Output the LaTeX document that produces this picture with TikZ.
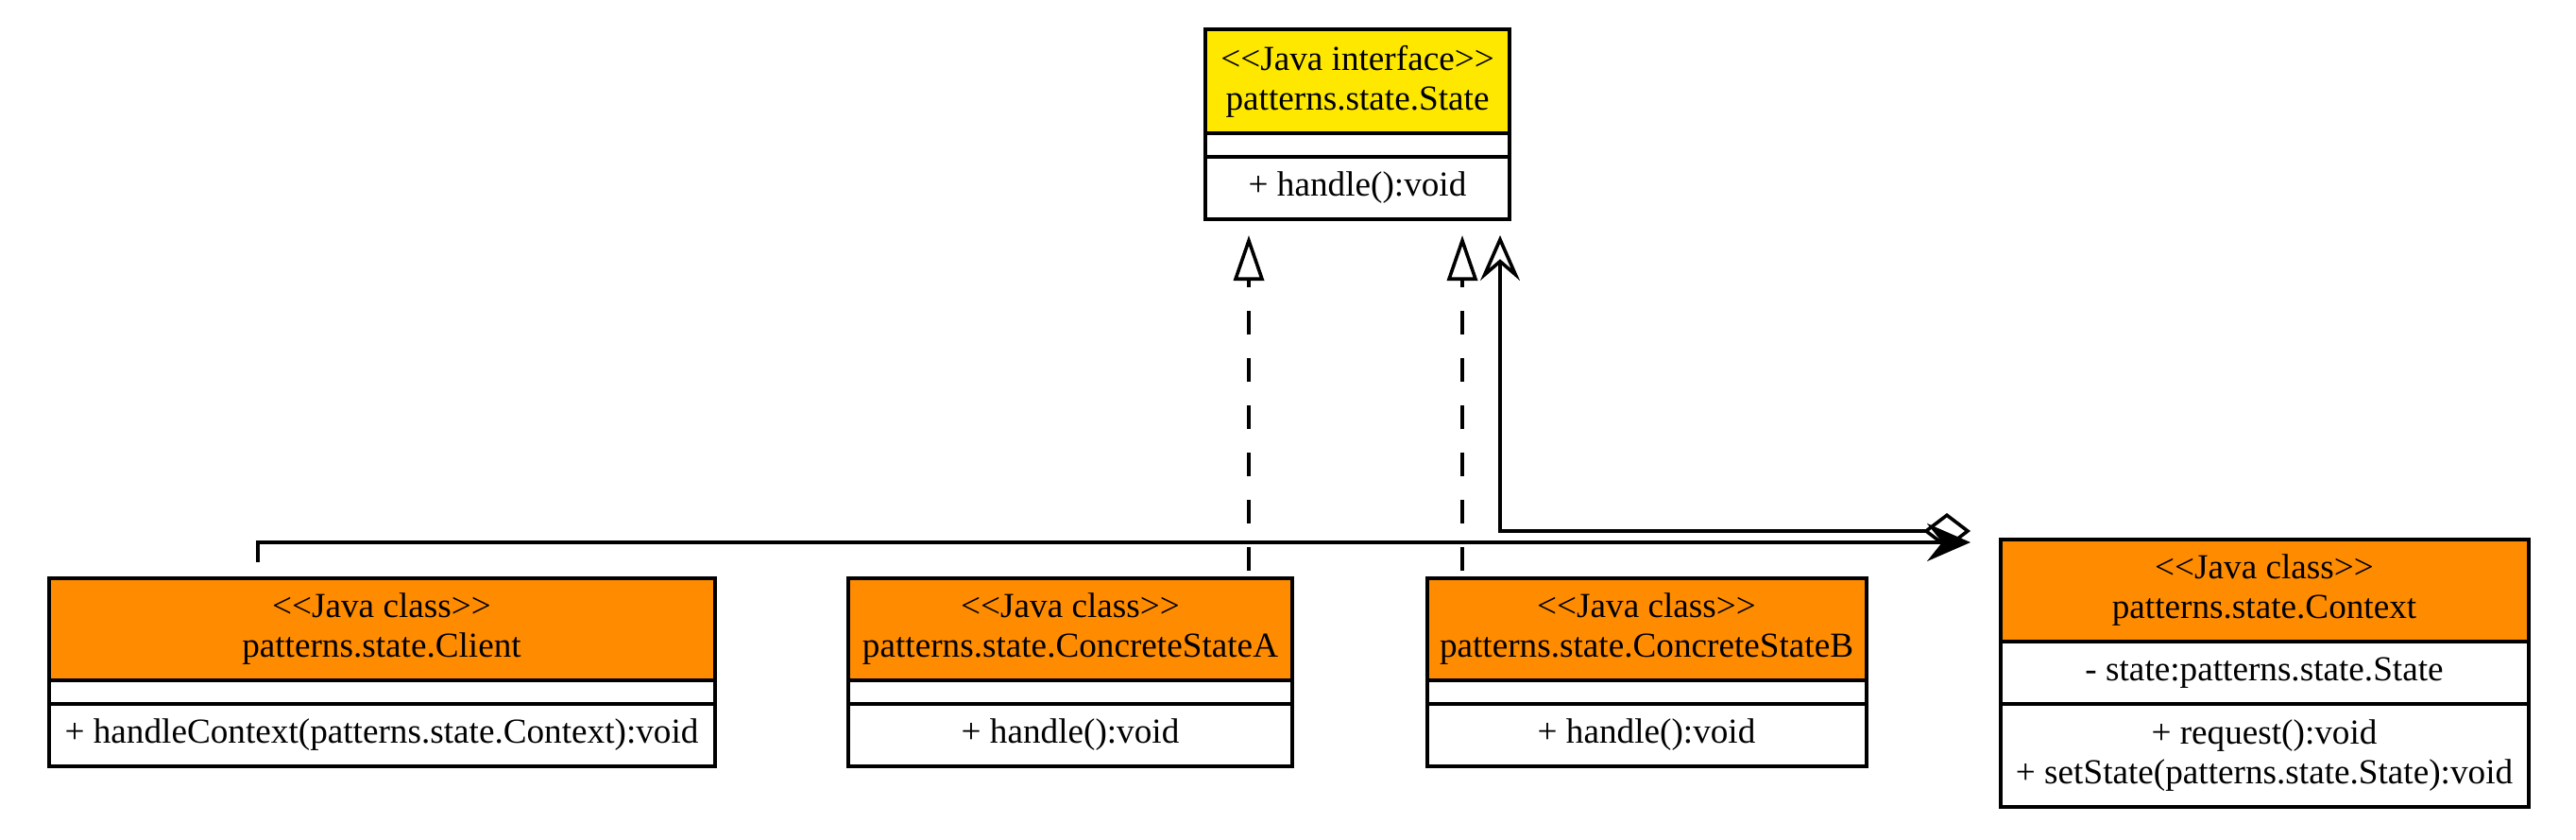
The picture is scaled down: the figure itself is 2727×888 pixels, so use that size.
\documentclass[tikz,border=0pt]{standalone}
\usepackage{fontspec}
\newfontfamily\umlfont{Liberation Serif}
\usetikzlibrary{arrows.meta,fit}
\definecolor{ifyellow}{RGB}{255,232,0}
\definecolor{clsorange}{RGB}{255,140,0}
\tikzset{
  boxline/.style={line width=1.1pt},
  frame/.style={draw, line width=1.1pt, inner sep=0pt, fill=none},
  txt/.style={font=\umlfont\fontsize{9.3}{10.5}\selectfont, align=center, inner sep=0pt},
  conn/.style={line width=0.9pt},
  realize/.style={conn, dash pattern=on 6.25pt off 6.25pt, -{Triangle[open, length=12pt, width=8pt, line width=0.9pt]}},
  assoc/.style={conn, -{Stealth[length=11.5pt, width=10pt, inset=4pt]}},
  aggr/.style={conn, {Diamond[open, length=12.5pt, width=9.5pt, line width=0.9pt]}-{Stealth[open, length=12pt, width=10.5pt, inset=4.5pt, line width=0.9pt]}},
}
\begin{document}
\begin{tikzpicture}[x=0.25pt, y=-0.25pt]
\useasboundingbox (0,0) rectangle (2727,888);
% ---- State (interface)
\fill[ifyellow] (1276,31) rectangle (1598,141);
\fill[white] (1276,141) rectangle (1598,232);
\draw[boxline] (1276,141) -- (1598,141) (1276,166) -- (1598,166);
\node[frame, fit={(1276,31)(1598,232)}] (state) {};
\node[txt] (stateh) at (1437,86) {\textless\textless Java interface\textgreater\textgreater\\patterns.state.State};
\node[txt] (statem) at (1437,199) {+ handle():void};
% ---- Client
\fill[clsorange] (52,612) rectangle (757,720);
\draw[boxline] (52,720) -- (757,720) (52,745) -- (757,745);
\node[frame, fit={(52,612)(757,811)}] (client) {};
\node[txt] (clienth) at (404,666) {\textless\textless Java class\textgreater\textgreater\\patterns.state.Client};
\node[txt] (clientm) at (404,778) {+ handleContext(patterns.state.Context):void};
% ---- ConcreteStateA
\fill[clsorange] (898,612) rectangle (1368,720);
\draw[boxline] (898,720) -- (1368,720) (898,745) -- (1368,745);
\node[frame, fit={(898,612)(1368,811)}] (csa) {};
\node[txt] (csah) at (1133,666) {\textless\textless Java class\textgreater\textgreater\\patterns.state.ConcreteStateA};
\node[txt] (csam) at (1133,778) {+ handle():void};
% ---- ConcreteStateB
\fill[clsorange] (1511,612) rectangle (1976,720);
\draw[boxline] (1511,720) -- (1976,720) (1511,745) -- (1976,745);
\node[frame, fit={(1511,612)(1976,811)}] (csb) {};
\node[txt] (csbh) at (1743,666) {\textless\textless Java class\textgreater\textgreater\\patterns.state.ConcreteStateB};
\node[txt] (csbm) at (1743,778) {+ handle():void};
% ---- Context
\fill[clsorange] (2118,571) rectangle (2677,679);
\draw[boxline] (2118,679) -- (2677,679) (2118,745) -- (2677,745);
\node[frame, fit={(2118,571)(2677,854)}] (ctx) {};
\node[txt] (ctxh) at (2397,625) {\textless\textless Java class\textgreater\textgreater\\patterns.state.Context};
\node[txt] (ctxa) at (2397,712) {- state:patterns.state.State};
\node[txt] (ctxm) at (2397,800) {+ request():void\\+ setState(patterns.state.State):void};
% ---- connector end points
\coordinate (csaTop) at (1322,604);
\coordinate (csbTop) at (1548,604);
\coordinate (stA) at (1322,249);
\coordinate (stB) at (1548,249);
\coordinate (stC) at (1588,249);
\coordinate (clTop) at (273,595);
\coordinate (ctxIn) at (2086,574);
\coordinate (ctxAg) at (2086,562);
% ---- connectors
\draw[realize] (csaTop) -- (stA);
\draw[realize] (csbTop) -- (stB);
\draw[assoc] (clTop) |- (ctxIn);
\draw[aggr] (ctxAg) -| (stC);
\end{tikzpicture}
\end{document}
